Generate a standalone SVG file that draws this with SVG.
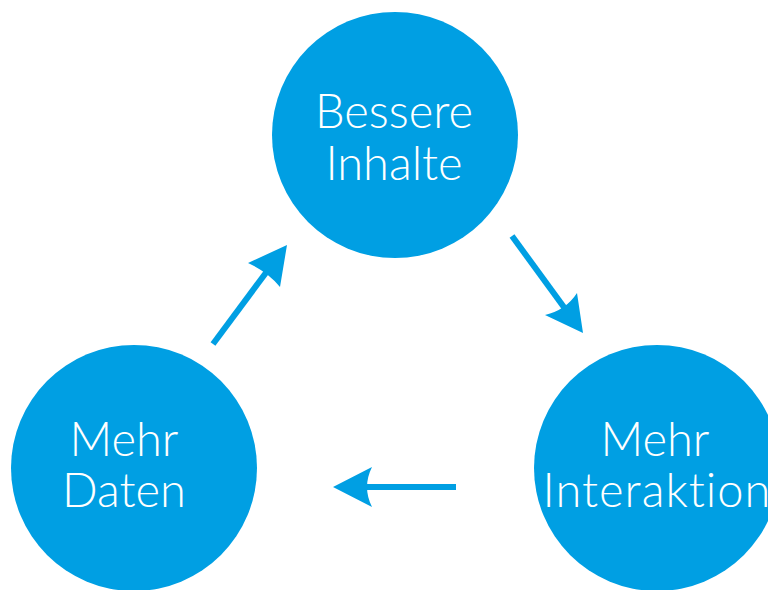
<svg xmlns="http://www.w3.org/2000/svg" width="768" height="590" viewBox="0 0 768 590">
<style>
.c{fill:#009FE3}
.t{fill:#fff;font-family:"Lato","Open Sans","Liberation Sans",sans-serif;font-weight:300;font-size:47px;text-anchor:middle}
.l{stroke:#009FE3;stroke-width:6;fill:none}
.h{fill:#009FE3}
</style>
<rect width="768" height="590" fill="#fff"/>
<g id="node-top"><circle class="c" cx="395" cy="135" r="123"/><text class="t" x="394" y="128">Bessere</text><text class="t" x="394" y="180">Inhalte</text></g>
<g id="node-left"><circle class="c" cx="134" cy="468" r="123"/><text class="t" x="124" y="456">Mehr</text><text class="t" x="124" y="507">Daten</text></g>
<g id="node-right"><circle class="c" cx="657" cy="468" r="123"/><text class="t" x="655" y="456">Mehr</text><text class="t" x="657" y="507" letter-spacing="1">Interaktion</text></g>
<g id="connectors">
<line class="l" x1="213" y1="344" x2="268" y2="270"/>
<path class="h" d="M287,245 L280,287 Q268,272 248,263 Z"/>
<line class="l" x1="512" y1="236" x2="566" y2="310"/>
<path class="h" d="M583,333 L545,315 Q566,310 577,293 Z"/>
<line class="l" x1="456" y1="487" x2="360" y2="487"/>
<path class="h" d="M333,487 L372,467 Q362,487 372,507 Z"/>
</g>
</svg>
